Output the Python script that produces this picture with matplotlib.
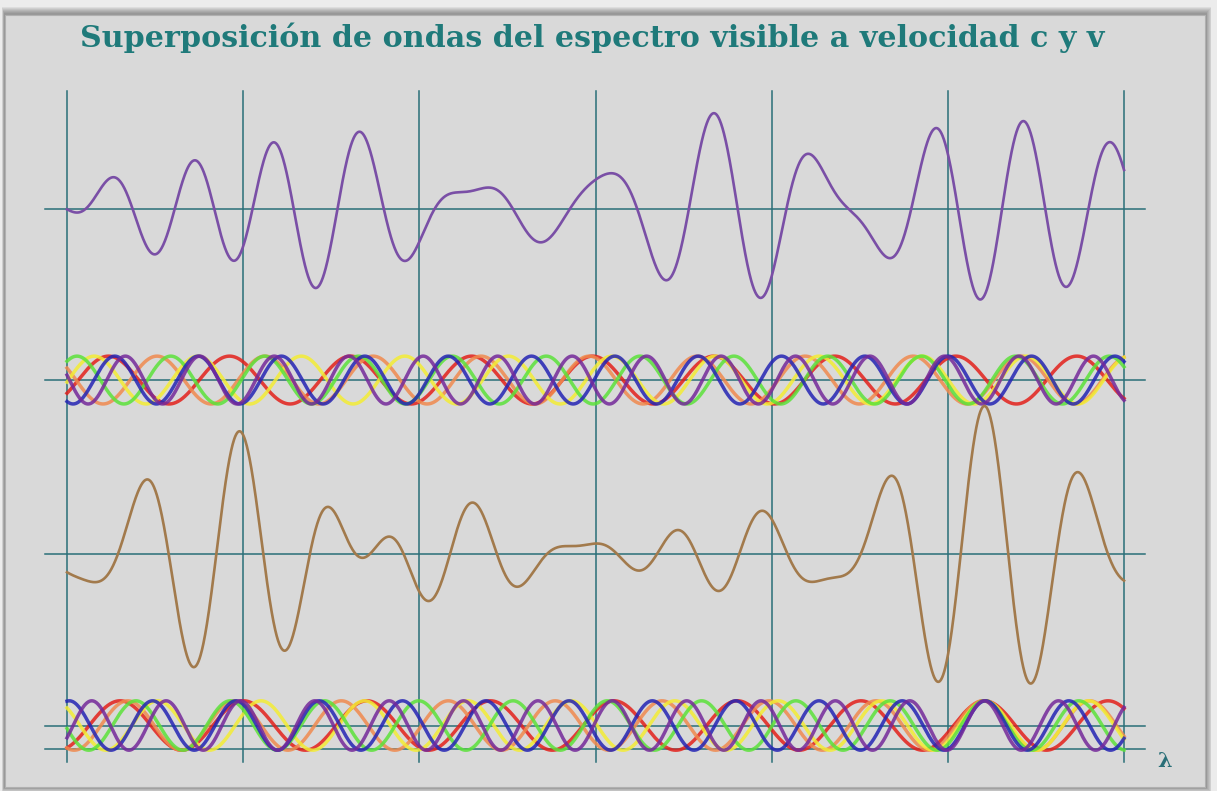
import numpy as np
import matplotlib
matplotlib.use("Agg")
import matplotlib.pyplot as plt
from matplotlib.patches import Rectangle

# red, orange, yellow, green, blue, violet
colores = ['#e3201b', '#f08a4e', '#f3ec34', '#5ce23a', '#2424b4', '#74299a']

# waves at velocity c: wavelength (grid units) and phase at x = 0
lam_c = [0.6871, 0.6131, 0.5876, 0.5327, 0.4731, 0.4227]
fase_c = [4.129, 1.044, 4.627, 5.615, 2.682, 1.360]
amp_c = 1.018

# waves at velocity v
lam_v = [0.7010, 0.6068, 0.5871, 0.5352, 0.4728, 0.4221]
fase_v = [3.585, 2.722, 0.778, 1.693, 6.108, 4.190]
amp_v = 1.051

# baseline of each row
y_sum_c, y_band_c, y_sum_v, y_band_v = 23.0, 15.7, 8.3, 1.0

teal = '#2a6f78'

fig = plt.figure(figsize=(12.17, 7.91), dpi=100, facecolor='#ececec')

# panel with a soft shadow, in pixel coords
bg = fig.add_axes([0, 0, 1, 1])
bg.set_xlim(0, 1217)
bg.set_ylim(791, 0)
bg.axis('off')
for k in range(7):
    d = 8 - k
    bg.add_patch(Rectangle((5 - d * 0.4, 15 - d), 1200 + d * 1.2, 772 + d * 1.6,
                           fc='#333333', ec='none', alpha=0.08))
bg.add_patch(Rectangle((5, 15), 1200, 772, fc='#d9d9d9', ec='#b0b0b0', lw=0.8))

ax = fig.add_axes([0, 0, 1, 1])
ax.patch.set_alpha(0)
ax.set_xlim(-67 / 176.17, (1217 - 67) / 176.17)
ax.set_ylim(-(791 - 749) / 23.5, 749 / 23.5)
ax.axis('off')

for xv in range(7):
    ax.plot([xv, xv], [-0.55, 28.0], color=teal, lw=1.1, zorder=1)
for yh in [y_sum_c, y_band_c, y_sum_v, y_band_v, 0.0]:
    ax.plot([-0.125, 6.12], [yh, yh], color=teal, lw=1.1, zorder=1)

x = np.linspace(0, 6, 3000)
tot_c = np.zeros_like(x)
tot_v = np.zeros_like(x)
for lc, fc, lv, fv, col in zip(lam_c, fase_c, lam_v, fase_v, colores):
    wc = amp_c * np.cos(2 * np.pi * x / lc + fc)
    wv = amp_v * np.cos(2 * np.pi * x / lv + fv)
    tot_c += wc
    tot_v += wv
    ax.plot(x, y_band_c + wc, color=col, lw=2.5, alpha=0.85, zorder=2)
    ax.plot(x, y_band_v + wv, color=col, lw=2.5, alpha=0.85, zorder=2)

ax.plot(x, y_sum_c + tot_c, color='#7a4fa6', lw=1.9, zorder=3)
ax.plot(x, y_sum_v + tot_v, color='#a27a4c', lw=1.9, zorder=3)

fig.text(592 / 1217, 1 - 38 / 791, 'Superposición de ondas del espectro visible a velocidad c y v',
         ha='center', va='center', family='DejaVu Serif', weight='bold', size=21.7,
         color='#1f7a7a')
fig.text(1165 / 1217, 1 - 761 / 791, 'λ', ha='center', va='center', family='DejaVu Serif',
         weight='bold', size=15, color=teal)

fig.savefig('out.png', dpi=100, facecolor=fig.get_facecolor())
